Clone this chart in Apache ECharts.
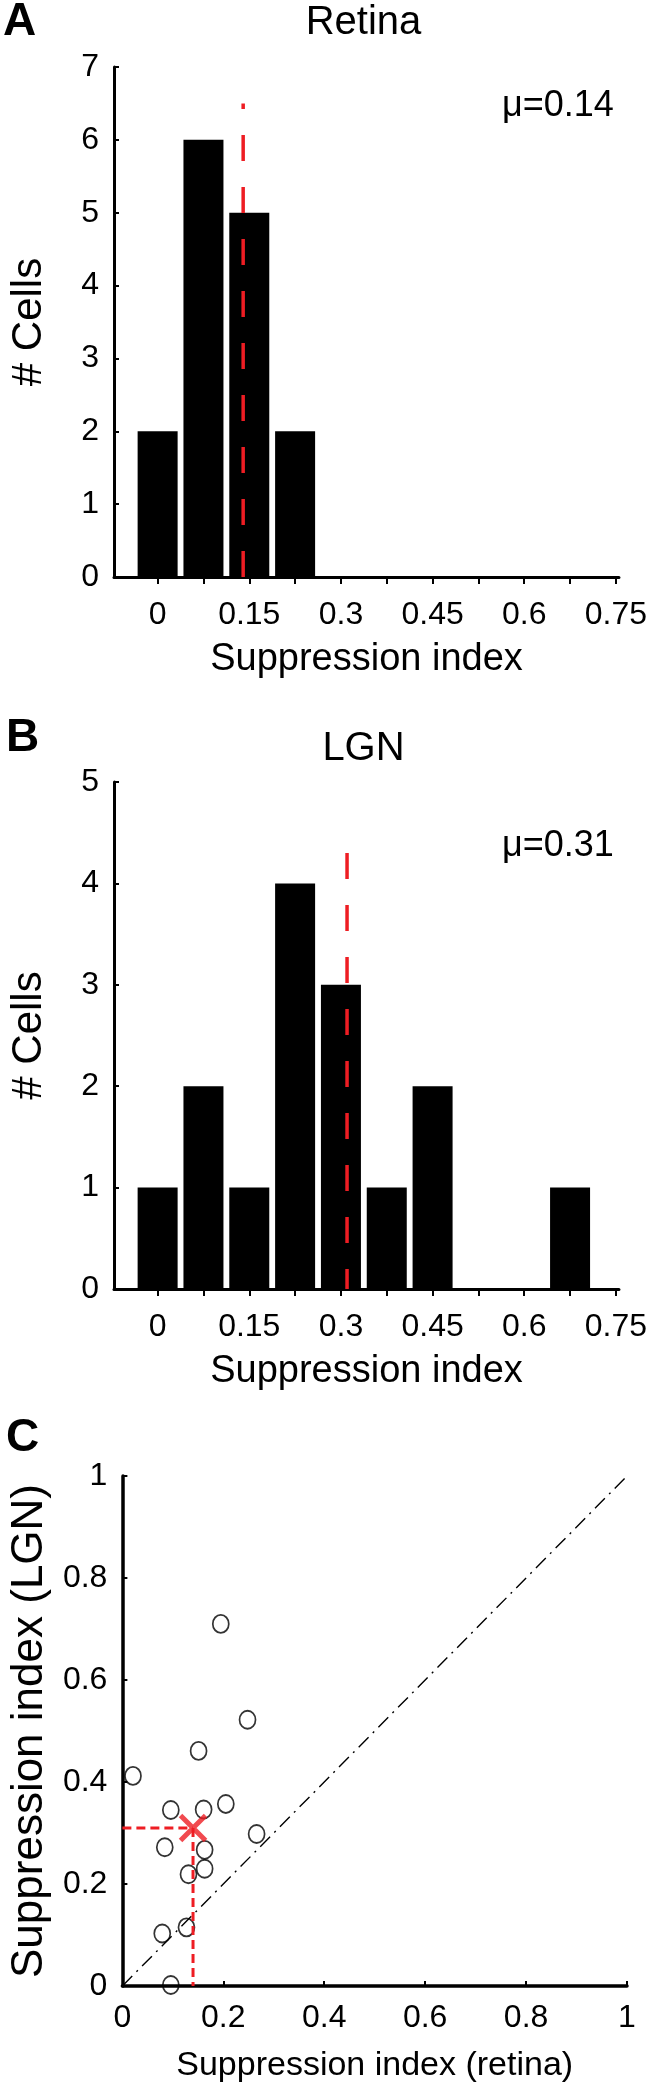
<!DOCTYPE html>
<html><head><meta charset="utf-8">
<script src="https://cdn.jsdelivr.net/npm/echarts@6/dist/echarts.min.js"></script>
<style>html,body{margin:0;padding:0;background:#fff}#c{width:650px;height:2088px}</style>
</head><body><div id="c"></div>
<script>
// ---------- data ----------
const binCenters = [0, 0.075, 0.15, 0.225, 0.3, 0.375, 0.45, 0.525, 0.6, 0.675];
const retinaCounts = [2, 6, 5, 2, 0, 0, 0, 0, 0, 0];
const lgnCounts = [1, 2, 1, 4, 3, 1, 2, 0, 0, 1];
const retinaMean = 0.14;
const lgnMean = 0.31;
const retinaMeanLineTop = 6.5;
const lgnMeanLineTop = 4.3;
const histTickValues = [0, 0.075, 0.15, 0.225, 0.3, 0.375, 0.45, 0.525, 0.6, 0.675, 0.75];
const histLabelValues = [0, 0.15, 0.3, 0.45, 0.6, 0.75];
const histLabelTexts = ['0', '0.15', '0.3', '0.45', '0.6', '0.75'];
const retinaSI = [0.248, 0.151, 0.021, 0.096, 0.161, 0.205, 0.266, 0.084, 0.163, 0.163, 0.131, 0.127, 0.079, 0.096, 0.195];
const lgnSI    = [0.522, 0.461, 0.412, 0.345, 0.346, 0.357, 0.298, 0.272, 0.267, 0.230, 0.219, 0.115, 0.103, 0.002, 0.710];
const scatterTickLabels = ['0', '0.2', '0.4', '0.6', '0.8', '1'];

// ---------- chart ----------
const FF = "'Liberation Sans', Arial, Helvetica, sans-serif";
const RED = '#ee1d23';
const chart = echarts.init(document.getElementById('c'), null, {renderer: 'canvas'});

function histLabel(v) {
  for (let i = 0; i < histLabelValues.length; i++) {
    if (Math.abs(v - histLabelValues[i]) < 1e-6) return histLabelTexts[i];
  }
  return '';
}
function scatLabel(v) {
  const i = Math.round(v / 0.2);
  return scatterTickLabels[i] !== undefined ? scatterTickLabels[i] : '';
}

function histX(gi) {
  return {
    gridIndex: gi, type: 'value', min: -0.0714, max: 0.755,
    axisLine: {show: true, onZero: false, lineStyle: {color: '#000', width: 3}},
    axisTick: {show: true, inside: false, length: 7, customValues: histTickValues, lineStyle: {color: '#000', width: 2}},
    axisLabel: {customValues: histLabelValues, formatter: histLabel, fontSize: 32, fontFamily: FF, color: '#000', margin: 22},
    splitLine: {show: false},
    name: 'Suppression index', nameLocation: 'middle', nameGap: 64,
    nameTextStyle: {fontSize: 38, fontFamily: FF, color: '#000'}
  };
}
function histY(gi, max) {
  return {
    gridIndex: gi, type: 'value', min: 0, max: max, interval: 1,
    axisLine: {show: true, onZero: false, lineStyle: {color: '#000', width: 3}},
    axisTick: {show: true, inside: true, length: 5, lineStyle: {color: '#000', width: 2}},
    axisLabel: {fontSize: 32, fontFamily: FF, color: '#000', margin: 15},
    splitLine: {show: false},
    name: '# Cells', nameLocation: 'middle', nameGap: 64, nameRotate: 90,
    nameTextStyle: {fontSize: 42, fontFamily: FF, color: '#000'}
  };
}

const option = {
  backgroundColor: '#fff',
  animation: false,
  grid: [
    {left: 108, top: 67, width: 515, height: 510},
    {left: 108, top: 782, width: 515, height: 507},
    {left: 109.5, top: 1476, width: 517.5, height: 510}
  ],
  xAxis: [
    histX(0), histX(1),
    {
      gridIndex: 2, type: 'value', min: 0, max: 1, interval: 0.2,
      axisLine: {show: true, onZero: false, lineStyle: {color: '#000', width: 3.5}},
      axisTick: {show: true, inside: true, length: 5, lineStyle: {color: '#000', width: 2}},
      axisLabel: {formatter: scatLabel, fontSize: 32, fontFamily: FF, color: '#000', margin: 16},
      splitLine: {show: false},
      name: 'Suppression index (retina)', nameLocation: 'middle', nameGap: 63,
      nameTextStyle: {fontSize: 34, fontFamily: FF, color: '#000'}
    }
  ],
  yAxis: [
    histY(0, 7), histY(1, 5),
    {
      gridIndex: 2, type: 'value', min: 0, max: 1, interval: 0.2,
      axisLine: {show: true, onZero: false, lineStyle: {color: '#000', width: 3.5}},
      axisTick: {show: true, inside: true, length: 5, lineStyle: {color: '#000', width: 2}},
      axisLabel: {formatter: scatLabel, fontSize: 32, fontFamily: FF, color: '#000', margin: 15},
      splitLine: {show: false},
      name: 'Suppression index (LGN)', nameLocation: 'middle', nameGap: 66, nameRotate: 90,
      nameTextStyle: {fontSize: 44, fontFamily: FF, color: '#000'}
    }
  ],
  series: [
    {type: 'bar', xAxisIndex: 0, yAxisIndex: 0, barWidth: 40, itemStyle: {color: '#000'},
     data: binCenters.map((c, i) => [c, retinaCounts[i]])},
    {type: 'line', xAxisIndex: 0, yAxisIndex: 0, symbol: 'none', z: 5,
     lineStyle: {color: RED, width: 3.5, type: [26, 26]},
     data: [[retinaMean, 0], [retinaMean, retinaMeanLineTop]]},
    {type: 'bar', xAxisIndex: 1, yAxisIndex: 1, barWidth: 40, itemStyle: {color: '#000'},
     data: binCenters.map((c, i) => [c, lgnCounts[i]])},
    {type: 'line', xAxisIndex: 1, yAxisIndex: 1, symbol: 'none', z: 5,
     lineStyle: {color: RED, width: 3.5, type: [26, 26]},
     data: [[lgnMean, lgnMeanLineTop], [lgnMean, 0]]},
    {type: 'line', xAxisIndex: 2, yAxisIndex: 2, symbol: 'none', z: 2,
     lineStyle: {color: '#000', width: 1.4, type: [14, 6, 2, 6]},
     data: [[0, 0], [1, 1]]},
    {type: 'scatter', xAxisIndex: 2, yAxisIndex: 2, symbol: 'circle', symbolSize: [16, 18], z: 3,
     itemStyle: {color: 'rgba(0,0,0,0)', borderColor: '#000', borderWidth: 1.8},
     data: retinaSI.map((x, i) => [x, lgnSI[i]])},
    {type: 'line', xAxisIndex: 2, yAxisIndex: 2, symbol: 'none', z: 4,
     lineStyle: {color: RED, width: 3, type: [9, 5]},
     data: [[0, lgnMean], [retinaMean, lgnMean]]},
    {type: 'line', xAxisIndex: 2, yAxisIndex: 2, symbol: 'none', z: 4,
     lineStyle: {color: RED, width: 3, type: [9, 5]},
     data: [[retinaMean, lgnMean], [retinaMean, 0]]},
    {type: 'scatter', xAxisIndex: 2, yAxisIndex: 2, z: 6,
     symbol: 'path://M0,0L10,10M10,0L0,10', symbolSize: 25,
     itemStyle: {color: 'rgba(0,0,0,0)', borderColor: RED, borderWidth: 5},
     data: [[retinaMean, lgnMean]]}
  ],
  graphic: [
    {type: 'text', x: 3, y: 22, style: {text: 'A', font: 'bold 46px ' + FF, fill: '#000', textAlign: 'left', textVerticalAlign: 'middle'}},
    {type: 'text', x: 6, y: 738, style: {text: 'B', font: 'bold 46px ' + FF, fill: '#000', textAlign: 'left', textVerticalAlign: 'middle'}},
    {type: 'text', x: 6, y: 1438, style: {text: 'C', font: 'bold 46px ' + FF, fill: '#000', textAlign: 'left', textVerticalAlign: 'middle'}},
    {type: 'text', x: 363.5, y: 23, style: {text: 'Retina', font: '40px ' + FF, fill: '#000', textAlign: 'center', textVerticalAlign: 'middle'}},
    {type: 'text', x: 363.5, y: 748.5, style: {text: 'LGN', font: '40px ' + FF, fill: '#000', textAlign: 'center', textVerticalAlign: 'middle'}},
    {type: 'text', x: 502, y: 106, style: {text: 'μ=0.14', font: '36px ' + FF, fill: '#000', textAlign: 'left', textVerticalAlign: 'middle'}},
    {type: 'text', x: 502, y: 846, style: {text: 'μ=0.31', font: '36px ' + FF, fill: '#000', textAlign: 'left', textVerticalAlign: 'middle'}}
  ]
};
chart.setOption(option);
</script>
</body></html>
